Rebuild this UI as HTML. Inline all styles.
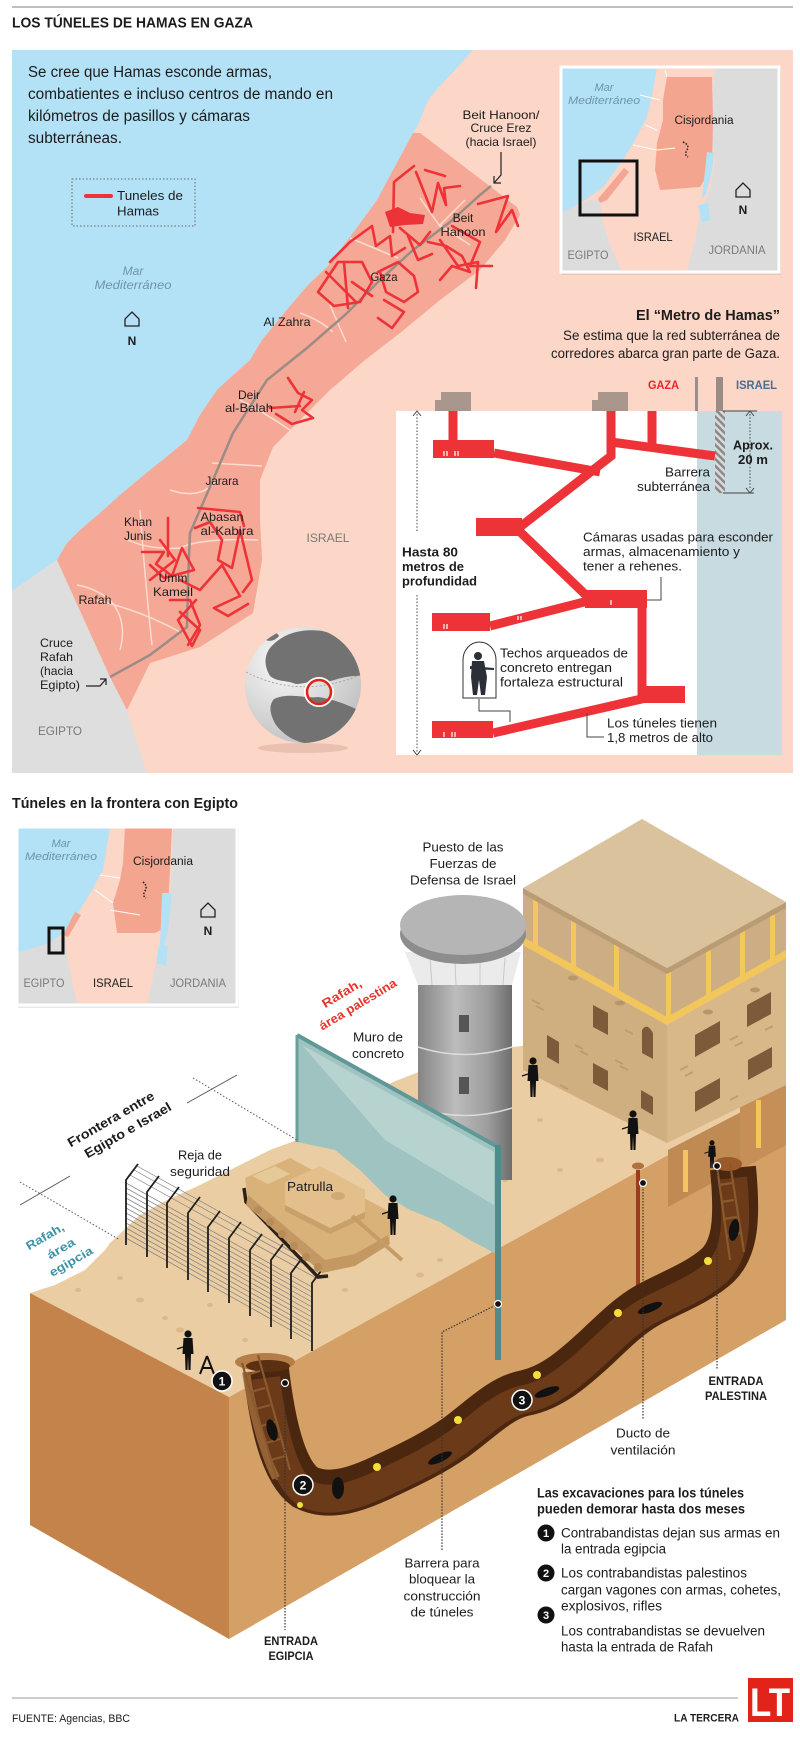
<!DOCTYPE html>
<html><head><meta charset="utf-8">
<style>
html,body{margin:0;padding:0;background:#fff;}
svg{display:block;}
.t{font-family:"Liberation Sans",sans-serif;fill:#1c1c1c;}
.b{font-weight:bold;}
.i{font-style:italic;}
</style></head>
<body>
<svg width="800" height="1744" viewBox="0 0 800 1744" xmlns="http://www.w3.org/2000/svg">
<defs>
 <pattern id="hatch" width="5" height="5" patternUnits="userSpaceOnUse" patternTransform="rotate(-45)">
  <rect width="5" height="5" fill="#d9d9d9"/><rect width="2.5" height="5" fill="#8a8a8a"/>
 </pattern>
 <radialGradient id="globe" cx="0.35" cy="0.3" r="0.8"><stop offset="0" stop-color="#fbfbfb"/><stop offset="1" stop-color="#bdbdbd"/></radialGradient>
 <clipPath id="gclip"><circle cx="303" cy="685" r="58"/></clipPath>
 <clipPath id="in1"><rect x="561" y="67" width="218" height="205"/></clipPath>
 <clipPath id="in2"><rect x="17" y="827" width="220" height="178"/></clipPath>
 <linearGradient id="tower" x1="0" x2="1"><stop offset="0" stop-color="#858585"/><stop offset="0.4" stop-color="#bcbcbc"/><stop offset="0.75" stop-color="#9c9c9c"/><stop offset="1" stop-color="#6d6d6d"/></linearGradient>
 <g id="p"><circle cx="0" cy="4" r="3.6"/><path d="M-4.5,8 H4.5 L5.5,24 H3 L2.5,40 H0.5 L0,26 L-0.5,40 H-2.5 L-3,24 H-5.5 Z"/><path d="M-5,17 L-11,19" stroke="#111" stroke-width="1.3"/></g>
</defs>

<!-- header -->
<line x1="12" y1="7" x2="793" y2="7" stroke="#999" stroke-width="1.2"/>
<text class="t b" x="12" y="27.5" font-size="15" textLength="241" lengthAdjust="spacingAndGlyphs">LOS TÚNELES DE HAMAS EN GAZA</text>

<!-- ============ MAP PANEL ============ -->
<rect x="12" y="50" width="781" height="723" fill="#fcd6c6"/>
<path d="M12,50 H473 L455,70 L438,88 L428,100 L418,125 L413,133 L377,200 L353,233 L327,267 L308,285 L285,312 L262,340 L250,360 L230,378 L217,390 L200,415 L187,440 L165,458 L150,470 L120,495 L100,513 L80,530 L67,543 L57,560 L13,590 L12,590 Z" fill="#b3e1f6"/>
<path d="M57,560 L13,590 L12,590 L12,773 L147,773 L127,710 L110,677 Z" fill="#dedede"/>
<path d="M413,133 L420,133 L517,207 L520,215 L505,240 L480,270 L440,300 L400,333 L365,360 L330,390 L307,413 L273,447 L260,480 L260,520 L262,560 L253,613 L200,647 L150,663 L127,710 L110,677 L57,560 L67,543 L80,530 L100,513 L120,495 L150,470 L165,458 L187,440 L200,415 L217,390 L230,378 L250,360 L262,340 L285,312 L308,285 L327,267 L353,233 L377,200 Z" fill="#f5a896"/>
<!-- district lines -->
<g stroke="#fcdccf" stroke-width="1.5" fill="none">
 <path d="M300,313 Q320,320 333,332"/>
 <path d="M212,463 L262,466"/>
 <path d="M170,490 Q200,500 215,482"/>
 <path d="M128,540 Q150,550 180,548 Q200,538 258,540"/>
 <path d="M95,600 Q140,610 180,632"/>
 <path d="M120,650 Q128,620 110,600 Q95,588 77,585"/>
 <path d="M140,510 Q145,580 152,645"/>
 <path d="M350,238 L398,258"/>
 <path d="M330,305 L346,342"/>
 <path d="M420,198 L444,232"/>
 <path d="M465,200 L440,225 L470,245"/>
 <path d="M240,400 Q260,410 290,430"/>
</g>
<!-- road -->
<path d="M110,677 L150,655 L187,627 L188,580 L190,533 L213,480 L233,433 L267,380 L307,348 L345,315 L380,280 L413,250 L450,222 L480,195 L491,186" stroke="#9b8c86" stroke-width="2.5" fill="none"/>
<!-- red tunnels -->
<g stroke="#ee3338" stroke-width="2.6" fill="none" stroke-linejoin="round" stroke-linecap="round">
 <polyline points="393,232 394,182 414,166"/>
 <polyline points="416,172 432,212 438,183 446,205 444,188 460,186"/>
 <polyline points="425,170 445,176"/>
 <polyline points="330,262 350,242 372,226 376,246 390,236 392,256 405,248"/>
 <polyline points="318,292 338,262 362,262 372,282 360,302 334,306 318,292"/>
 <polyline points="326,272 356,302"/>
 <polyline points="344,262 348,308"/>
 <polyline points="378,272 398,262 414,276 418,292 404,302 386,292 380,272"/>
 <polyline points="384,300 404,312 392,328 378,318"/>
 <polyline points="428,242 446,246 462,256 470,272 452,266 440,280"/>
 <polyline points="452,226 480,242 470,266 492,266"/>
 <polyline points="478,204 508,196 496,232 512,210 518,226"/>
 <polyline points="440,240 458,266 478,262 476,288"/>
 <polyline points="408,236 418,260 432,254"/>
 <polyline points="352,282 372,296"/>
 <polyline points="400,228 420,245 430,232"/>
 <polyline points="288,378 298,393 312,400 302,410 313,418 292,424 276,414"/>
 <polyline points="270,408 300,406"/>
 <polyline points="304,392 295,412"/>
 <polyline points="168,518 168,556"/>
 <polyline points="142,552 164,552 156,564 172,576 182,548 194,570 164,578 150,565"/>
 <polyline points="198,508 240,512 244,526"/>
 <polyline points="195,528 210,522 222,540 218,560 232,568 240,530 252,580 243,592"/>
 <polyline points="180,580 200,590 222,565 240,596 214,608 228,616 248,604"/>
 <polyline points="180,612 200,630 192,646 178,620 196,600"/>
 <polyline points="170,600 190,600 200,625 188,645"/>
 <polyline points="160,540 175,560 150,580"/>
</g>
<polygon points="385,212 398,207 410,213 425,215 423,224 405,225 390,227" fill="#ee3338"/>

<!-- intro text -->
<text class="t" font-size="15.5" x="28" y="77" textLength="244" lengthAdjust="spacingAndGlyphs">Se cree que Hamas esconde armas,</text>
<text class="t" font-size="15.5" x="28" y="99" textLength="305" lengthAdjust="spacingAndGlyphs">combatientes e incluso centros de mando en</text>
<text class="t" font-size="15.5" x="28" y="121" textLength="222" lengthAdjust="spacingAndGlyphs">kilómetros de pasillos y cámaras</text>
<text class="t" font-size="15.5" x="28" y="143" textLength="94" lengthAdjust="spacingAndGlyphs">subterráneas.</text>

<!-- legend -->
<rect x="72" y="179" width="123" height="47" fill="none" stroke="#666" stroke-width="1" stroke-dasharray="1.5 2"/>
<line x1="86" y1="196" x2="111" y2="196" stroke="#ee3338" stroke-width="4" stroke-linecap="round"/>
<text class="t" font-size="13" x="117" y="200" textLength="66" lengthAdjust="spacingAndGlyphs">Tuneles de</text>
<text class="t" font-size="13" x="117" y="215.5" textLength="42" lengthAdjust="spacingAndGlyphs">Hamas</text>

<!-- map labels -->
<text class="t i" font-size="12" x="133" y="275" text-anchor="middle" style="fill:#6f95a6">Mar</text>
<text class="t i" font-size="12" x="133" y="289" text-anchor="middle" style="fill:#6f95a6" textLength="77" lengthAdjust="spacingAndGlyphs">Mediterráneo</text>
<path d="M125,326 V319 L132,312 L139,319 V326 Z" fill="none" stroke="#222" stroke-width="1.3"/>
<text class="t b" font-size="12" x="132" y="345" text-anchor="middle">N</text>

<text class="t" font-size="12" x="501" y="119" text-anchor="middle" textLength="77" lengthAdjust="spacingAndGlyphs">Beit Hanoon/</text>
<text class="t" font-size="12" x="501" y="132" text-anchor="middle" textLength="61" lengthAdjust="spacingAndGlyphs">Cruce Erez</text>
<text class="t" font-size="12" x="501" y="146" text-anchor="middle" textLength="71" lengthAdjust="spacingAndGlyphs">(hacia Israel)</text>
<text class="t" font-size="12" x="463" y="222" text-anchor="middle">Beit</text>
<text class="t" font-size="12" x="463" y="236" text-anchor="middle" textLength="45" lengthAdjust="spacingAndGlyphs">Hanoon</text>
<text class="t" font-size="12" x="384" y="281" text-anchor="middle" textLength="27" lengthAdjust="spacingAndGlyphs">Gaza</text>
<text class="t" font-size="12" x="287" y="326" text-anchor="middle" textLength="47" lengthAdjust="spacingAndGlyphs">Al Zahra</text>
<text class="t" font-size="12" x="249" y="399" text-anchor="middle">Deir</text>
<text class="t" font-size="12" x="249" y="412" text-anchor="middle" textLength="48" lengthAdjust="spacingAndGlyphs">al-Balah</text>
<text class="t" font-size="12" x="222" y="485" text-anchor="middle" textLength="33" lengthAdjust="spacingAndGlyphs">Jarara</text>
<text class="t" font-size="12" x="138" y="526" text-anchor="middle">Khan</text>
<text class="t" font-size="12" x="138" y="540" text-anchor="middle">Junis</text>
<text class="t" font-size="12" x="222" y="521" text-anchor="middle" textLength="43" lengthAdjust="spacingAndGlyphs">Abasan</text>
<text class="t" font-size="12" x="227" y="535" text-anchor="middle" textLength="53" lengthAdjust="spacingAndGlyphs">al-Kabira</text>
<text class="t" font-size="12" x="173" y="582" text-anchor="middle">Umm</text>
<text class="t" font-size="12" x="173" y="596" text-anchor="middle" textLength="40" lengthAdjust="spacingAndGlyphs">Kameil</text>
<text class="t" font-size="12" x="95" y="604" text-anchor="middle" textLength="33" lengthAdjust="spacingAndGlyphs">Rafah</text>
<text class="t" font-size="12" x="40" y="647" textLength="33" lengthAdjust="spacingAndGlyphs">Cruce</text>
<text class="t" font-size="12" x="40" y="661" textLength="33" lengthAdjust="spacingAndGlyphs">Rafah</text>
<text class="t" font-size="12" x="40" y="675" textLength="33" lengthAdjust="spacingAndGlyphs">(hacia</text>
<text class="t" font-size="12" x="40" y="689" textLength="40" lengthAdjust="spacingAndGlyphs">Egipto)</text>
<text class="t" font-size="12" x="60" y="735" text-anchor="middle" style="fill:#7a7a7a" textLength="44" lengthAdjust="spacingAndGlyphs">EGIPTO</text>
<text class="t" font-size="12" x="328" y="542" text-anchor="middle" style="fill:#7a7a7a" textLength="43" lengthAdjust="spacingAndGlyphs">ISRAEL</text>
<!-- arrows -->
<path d="M501,152 V175 L494,183" fill="none" stroke="#222" stroke-width="1.2"/>
<path d="M494,176 V183 H501" fill="none" stroke="#222" stroke-width="1.2"/>
<path d="M86,686 H100 L106,679" fill="none" stroke="#222" stroke-width="1.2"/>
<path d="M100,679 H106 V685" fill="none" stroke="#222" stroke-width="1.2"/>

<!-- globe -->
<ellipse cx="303" cy="748" rx="45" ry="5" fill="#e3b8a8" opacity="0.7"/>
<circle cx="303" cy="685" r="58" fill="url(#globe)"/>
<g clip-path="url(#gclip)" fill="#727272">
 <path d="M270,648 C282,634 300,628 322,631 C342,635 356,646 362,660 L362,676 C348,675 338,679 327,682 C317,678 306,684 296,684 C286,680 277,682 270,676 C264,666 264,656 270,648 Z"/>
 <path d="M274,699 C290,692 305,699 318,697 C332,699 346,704 358,710 C354,727 341,739 322,744 C302,746 286,738 276,725 C269,713 269,705 274,699 Z"/>
 <path d="M262,636 C268,630 276,630 279,636 C274,642 266,643 262,636 Z"/>
</g>
<path d="M246,672 Q300,700 360,675" fill="none" stroke="#9a9a9a" stroke-width="0.8" stroke-dasharray="2 2"/>
<circle cx="319" cy="692" r="14" fill="none" stroke="#fff" stroke-width="2"/>
<circle cx="319" cy="692" r="12" fill="none" stroke="#e2231a" stroke-width="2.5"/>

<!-- inset 1 -->
<rect x="562" y="69" width="219" height="206" fill="#d9b7a8" opacity="0.5"/>
<g clip-path="url(#in1)">
 <rect x="561" y="67" width="218" height="205" fill="#fcd6c6"/>
 <path d="M561,67 H657 L652,95 L647,117 L635,140 L623,160 L603,187 L585,200 L573,207 L561,213 Z" fill="#b3e1f6"/>
 <path d="M561,213 L573,207 L590,200 L600,201 L603,222 L610,245 L622,272 H561 Z" fill="#dcdcdc"/>
 <path d="M624,168 L629,172 L607,200 L600,203 L598,199 Z" fill="#f4a594"/>
 <path d="M715,67 H779 V272 H687 L695,240 L700,213 L710,190 L715,157 L710,133 L712,100 Z" fill="#dcdcdc"/>
 <path d="M667,77 L712,77 L713,120 L712,167 L700,187 L660,190 L655,170 L657,143 L663,120 L663,100 Z" fill="#f4a58f"/>
 <path d="M707,152 L714,153 L712,170 L706,195 L702,198 Z M698,205 L708,203 L710,220 L702,222 Z" fill="#b3e1f6"/>
 <g stroke="#fff" stroke-width="1" fill="none">
  <path d="M640,95 L660,100 M645,125 L657,130 M633,145 L657,150 L675,148"/>
  <path d="M665,70 L667,77"/>
 </g>
 <path d="M683,142 Q690,145 687,150 Q684,155 688,157" fill="none" stroke="#222" stroke-width="1.5" stroke-dasharray="1.5 1.5"/>
</g>
<rect x="561" y="67" width="218" height="205" fill="none" stroke="#fff" stroke-width="3"/>
<rect x="580" y="161" width="57" height="54" fill="none" stroke="#111" stroke-width="3"/>
<text class="t i" font-size="11" x="604" y="91" text-anchor="middle" style="fill:#6f95a6">Mar</text>
<text class="t i" font-size="11" x="604" y="104" text-anchor="middle" style="fill:#6f95a6" textLength="72" lengthAdjust="spacingAndGlyphs">Mediterráneo</text>
<text class="t" font-size="11.5" x="704" y="124" text-anchor="middle" textLength="59" lengthAdjust="spacingAndGlyphs">Cisjordania</text>
<text class="t" font-size="11.5" x="653" y="241" text-anchor="middle" textLength="39" lengthAdjust="spacingAndGlyphs">ISRAEL</text>
<text class="t" font-size="11.5" x="588" y="259" text-anchor="middle" style="fill:#7a7a7a" textLength="41" lengthAdjust="spacingAndGlyphs">EGIPTO</text>
<text class="t" font-size="11.5" x="737" y="254" text-anchor="middle" style="fill:#7a7a7a" textLength="57" lengthAdjust="spacingAndGlyphs">JORDANIA</text>
<path d="M736,197 V190 L743,183 L750,190 V197 Z" fill="none" stroke="#222" stroke-width="1.3"/>
<text class="t b" font-size="12" x="743" y="214" text-anchor="middle">N</text>

<!-- metro section -->
<text class="t b" font-size="15" x="780" y="320" text-anchor="end" textLength="144" lengthAdjust="spacingAndGlyphs">El “Metro de Hamas”</text>
<text class="t" font-size="13.5" x="780" y="340" text-anchor="end" textLength="217" lengthAdjust="spacingAndGlyphs">Se estima que la red subterránea de</text>
<text class="t" font-size="13.5" x="780" y="358" text-anchor="end" textLength="229" lengthAdjust="spacingAndGlyphs">corredores abarca gran parte de Gaza.</text>
<text class="t b" font-size="12" x="648" y="389" style="fill:#e8262d" textLength="31" lengthAdjust="spacingAndGlyphs">GAZA</text>
<text class="t b" font-size="12" x="736" y="389" style="fill:#4b6e8c" textLength="41" lengthAdjust="spacingAndGlyphs">ISRAEL</text>
<rect x="695" y="377" width="3" height="34" fill="#9b8f8a"/>
<rect x="716" y="377" width="7" height="34" fill="#9b8b84"/>
<path d="M435,411 V400 H441 V392 H471 V411 Z" fill="#a9968d"/>
<path d="M592,411 V400 H598 V392 H628 V411 Z" fill="#a9968d"/>
<rect x="396" y="411" width="301" height="344" fill="#ffffff"/>
<rect x="697" y="411" width="85" height="344" fill="#c8dbe1"/>
<rect x="715" y="411" width="10" height="82" fill="url(#hatch)"/>
<!-- red tunnels metro -->
<g stroke="#ee3338" stroke-width="9" fill="none" stroke-linejoin="miter">
 <path d="M453,411 V444"/>
 <path d="M494,453 L600,472"/>
 <path d="M611,411 V456 L520,527"/>
 <path d="M611,442 L715,456"/>
 <path d="M652,411 V445"/>
 <path d="M515,527 L590,599"/>
 <path d="M490,626 L592,600"/>
 <path d="M642,600 V700"/>
 <path d="M493,733 L646,698"/>
</g>
<g fill="#ee3338">
 <rect x="433" y="440" width="61" height="18"/>
 <rect x="476" y="518" width="46" height="18"/>
 <rect x="585" y="590" width="62" height="18"/>
 <rect x="432" y="613" width="58" height="18"/>
 <rect x="642" y="686" width="43" height="17"/>
 <rect x="432" y="721" width="61" height="17"/>
</g>
<g stroke="#fff" stroke-width="1.2">
 <path d="M444,451 v5 M447,451 v5 M455,451 v5 M458,451 v5 M497,536 v4 M500,536 v4 M503,536 v4 M444,624 v5 M447,624 v5 M444,732 v5 M452,732 v5 M455,732 v5 M611,600 v5 M518,616 v4 M521,616 v4"/>
</g>
<!-- dimension lines -->
<g stroke="#444" stroke-width="1" fill="none">
 <path d="M417,414 V532 M417,595 V752" stroke-dasharray="1.5 1.8"/>
 <path d="M413,416 L417,411 L421,416 M413,750 L417,755 L421,750"/>
 <path d="M750,414 V490" stroke-dasharray="1.5 1.8"/>
 <path d="M746,416 L750,411 L754,416 M746,488 L750,493 L754,488"/>
 <path d="M723,411 H757 M723,493 H754"/>
 <path d="M661,577 V600 H647"/>
 <path d="M479,699 V711 H510 V722"/>
 <path d="M587,713 V737 H604"/>
</g>
<text class="t b" font-size="13" x="753" y="449.5" text-anchor="middle" textLength="40" lengthAdjust="spacingAndGlyphs">Aprox.</text>
<text class="t b" font-size="13" x="753" y="464" text-anchor="middle" textLength="30" lengthAdjust="spacingAndGlyphs">20 m</text>
<text class="t" font-size="13" x="710" y="476.5" text-anchor="end" textLength="45" lengthAdjust="spacingAndGlyphs">Barrera</text>
<text class="t" font-size="13" x="710" y="491" text-anchor="end" textLength="73" lengthAdjust="spacingAndGlyphs">subterránea</text>
<text class="t b" font-size="13" x="402" y="556.5" textLength="56" lengthAdjust="spacingAndGlyphs">Hasta 80</text>
<text class="t b" font-size="13" x="402" y="571" textLength="62" lengthAdjust="spacingAndGlyphs">metros de</text>
<text class="t b" font-size="13" x="402" y="585.5" textLength="75" lengthAdjust="spacingAndGlyphs">profundidad</text>
<text class="t" font-size="13" x="583" y="541.5" textLength="190" lengthAdjust="spacingAndGlyphs">Cámaras usadas para esconder</text>
<text class="t" font-size="13" x="583" y="556" textLength="157" lengthAdjust="spacingAndGlyphs">armas, almacenamiento y</text>
<text class="t" font-size="13" x="583" y="570.5" textLength="99" lengthAdjust="spacingAndGlyphs">tener a rehenes.</text>
<text class="t" font-size="13" x="500" y="657.5" textLength="128" lengthAdjust="spacingAndGlyphs">Techos arqueados de</text>
<text class="t" font-size="13" x="500" y="672" textLength="112" lengthAdjust="spacingAndGlyphs">concreto entregan</text>
<text class="t" font-size="13" x="500" y="686.5" textLength="123" lengthAdjust="spacingAndGlyphs">fortaleza estructural</text>
<text class="t" font-size="13" x="607" y="727.5" textLength="110" lengthAdjust="spacingAndGlyphs">Los túneles tienen</text>
<text class="t" font-size="13" x="607" y="742" textLength="106" lengthAdjust="spacingAndGlyphs">1,8 metros de alto</text>
<!-- arch with soldier -->
<path d="M463,698 V660 A16.5,18 0 0 1 496,660 V698 Z" fill="#fff" stroke="#333" stroke-width="1"/>
<g fill="#2b3038">
 <circle cx="478" cy="656" r="4"/>
 <path d="M472,661 H484 L487,677 L485,695 H481 L479,680 L477,695 H473 L471,677 Z"/>
 <path d="M470,666 L494,668 L494,670 L470,669 Z"/>
</g>

<!-- ============ LOWER SECTION ============ -->
<text class="t b" font-size="14.5" x="12" y="808" textLength="226" lengthAdjust="spacingAndGlyphs">Túneles en la frontera con Egipto</text>

<!-- inset 2 -->
<rect x="18" y="829" width="221" height="179" fill="#d9d9d9" opacity="0.6"/>
<g clip-path="url(#in2)">
 <rect x="17" y="827" width="220" height="178" fill="#fcd6c6"/>
 <path d="M17,827 H110 L103,870 L92,890 L80,910 L67,930 L50,943 L17,953 Z" fill="#b3e1f6"/>
 <path d="M17,953 L50,943 L65,935 L68,960 L77,1005 H17 Z" fill="#dcdcdc"/>
 <path d="M173,827 H237 V1005 H147 L157,957 L165,930 L170,897 L172,860 Z" fill="#dcdcdc"/>
 <path d="M125,827 L172,827 L170,870 L167,927 L155,933 L117,933 L113,903 L120,880 L123,863 Z" fill="#f4a58f"/>
 <path d="M75,912 L81,915 L68,937 L63,935 Z" fill="#f4a594"/>
 <path d="M162,893 L172,893 L168,930 L163,950 L160,948 Z M158,947 L168,946 L166,966 L157,963 Z" fill="#b3e1f6"/>
 <path d="M100,875 L120,878 M95,890 L113,903 M110,910 L140,915" stroke="#fff" stroke-width="1" fill="none"/>
 <path d="M143,882 Q148,886 145,891 Q142,896 146,898" fill="none" stroke="#222" stroke-width="1.5" stroke-dasharray="1.5 1.5"/>
</g>
<rect x="17" y="827" width="220" height="178" fill="none" stroke="#fff" stroke-width="3"/>
<rect x="49" y="928" width="14" height="25" fill="none" stroke="#111" stroke-width="3"/>
<text class="t i" font-size="11" x="61" y="847" text-anchor="middle" style="fill:#6f95a6">Mar</text>
<text class="t i" font-size="11" x="61" y="860" text-anchor="middle" style="fill:#6f95a6" textLength="72" lengthAdjust="spacingAndGlyphs">Mediterráneo</text>
<text class="t" font-size="11.5" x="163" y="865" text-anchor="middle" textLength="60" lengthAdjust="spacingAndGlyphs">Cisjordania</text>
<text class="t" font-size="11.5" x="44" y="987" text-anchor="middle" style="fill:#7a7a7a" textLength="41" lengthAdjust="spacingAndGlyphs">EGIPTO</text>
<text class="t" font-size="11.5" x="113" y="987" text-anchor="middle" textLength="40" lengthAdjust="spacingAndGlyphs">ISRAEL</text>
<text class="t" font-size="11.5" x="198" y="987" text-anchor="middle" style="fill:#7a7a7a" textLength="56" lengthAdjust="spacingAndGlyphs">JORDANIA</text>
<path d="M201,917 V910 L208,903 L215,910 V917 Z" fill="none" stroke="#222" stroke-width="1.3"/>
<text class="t b" font-size="12" x="208" y="935" text-anchor="middle">N</text>

<!-- 3D block -->
<path d="M30,1293 L55,1285 L85,1270 L105,1250 L110,1243 L140,1215 L167,1200 L200,1185 L240,1165 L270,1150 L297,1140 L330,1120 L393,1082 L470,1052 L530,1045 L786,958 L786,1090 L229,1397 Z" fill="#ebcda3"/>
<path d="M30,1293 L229,1397 L229,1639 L30,1525 Z" fill="#c4834b"/>
<path d="M229,1397 L786,1090 L786,1320 L229,1639 Z" fill="#d5a066"/>
<!-- sand dots -->
<g fill="#dcb88a">
 <ellipse cx="78" cy="1290" rx="3" ry="2"/><ellipse cx="140" cy="1300" rx="4" ry="2.5"/><ellipse cx="165" cy="1318" rx="3" ry="2"/>
 <ellipse cx="120" cy="1278" rx="3" ry="2"/><ellipse cx="180" cy="1330" rx="4" ry="2.5"/><ellipse cx="245" cy="1340" rx="3" ry="2"/>
 <ellipse cx="345" cy="1290" rx="3" ry="2"/><ellipse cx="420" cy="1275" rx="4" ry="2.5"/><ellipse cx="440" cy="1260" rx="3" ry="2"/>
 <ellipse cx="560" cy="1170" rx="3" ry="2"/><ellipse cx="600" cy="1160" rx="4" ry="2.5"/><ellipse cx="505" cy="1180" rx="3" ry="2"/>
 <ellipse cx="210" cy="1305" rx="3" ry="2"/><ellipse cx="430" cy="1100" rx="3" ry="2"/><ellipse cx="540" cy="1120" rx="3" ry="2"/>
</g>
<!-- cutaway near Palestinian side -->
<path d="M668,1150 L745,1110 L745,1165 L668,1207 Z" fill="#c08a53"/>
<path d="M740,1100 L786,1085 L786,1145 L740,1170 Z" fill="#c68f57"/>
<rect x="683" y="1150" width="5" height="42" fill="#f2c65a"/>
<rect x="756" y="1100" width="5" height="48" fill="#f2c65a"/>
<!-- ventilation duct -->
<rect x="636" y="1170" width="4" height="120" fill="#9a3d1c"/>
<ellipse cx="638" cy="1166" rx="6" ry="3.5" fill="#b07040"/>

<!-- tunnel -->
<path d="M266,1370 C272,1420 282,1470 305,1487 C330,1500 360,1488 385,1476 C415,1462 435,1452 455,1438 C480,1420 500,1398 525,1393 C550,1388 570,1372 597,1347 C615,1330 630,1315 648,1305 C670,1293 700,1282 718,1265 C735,1248 738,1220 733,1168" fill="none" stroke="#4c2710" stroke-width="46"/>
<path d="M266,1372 C272,1420 282,1470 305,1487 C330,1500 360,1488 385,1476 C415,1462 435,1452 455,1438 C480,1420 500,1398 525,1393 C550,1388 570,1372 597,1347 C615,1330 630,1315 648,1305 C670,1293 700,1282 718,1265 C735,1248 738,1220 733,1172" fill="none" stroke="#6b3a18" stroke-width="28" transform="translate(0,6)"/>
<path d="M246,1372 C252,1410 262,1450 276,1478" fill="none" stroke="#a5703e" stroke-width="8" opacity="0.8"/>
<ellipse cx="265" cy="1362" rx="30" ry="9" fill="#b57d47"/>
<ellipse cx="268" cy="1366" rx="22" ry="6" fill="#5a2f12"/>
<ellipse cx="728" cy="1164" rx="14" ry="7" fill="#9a5a2a"/>
<!-- ladders -->
<g stroke="#8a5a2e" stroke-width="2.2" fill="none">
 <path d="M242,1363 L277,1480 M258,1355 L290,1470"/>
 <path d="M246,1375 L260,1371 M251,1392 L265,1388 M256,1409 L270,1405 M261,1426 L275,1422 M266,1443 L280,1439 M271,1460 L285,1456"/>
 <path d="M717,1167 L730,1260 M730,1163 L744,1252"/>
 <path d="M719,1185 L732,1183 M721,1202 L734,1200 M723,1219 L737,1217 M726,1236 L740,1233"/>
</g>
<!-- lamps -->
<g fill="#f5de3a">
 <circle cx="377" cy="1467" r="4"/><circle cx="458" cy="1420" r="4"/><circle cx="537" cy="1375" r="4"/><circle cx="618" cy="1313" r="4"/><circle cx="708" cy="1261" r="4"/><circle cx="300" cy="1505" r="3"/>
</g>
<!-- crawling people -->
<g fill="#111">
 <ellipse cx="440" cy="1458" rx="13" ry="4" transform="rotate(-25 440 1458)"/>
 <ellipse cx="547" cy="1392" rx="13" ry="4" transform="rotate(-20 547 1392)"/>
 <ellipse cx="650" cy="1308" rx="13" ry="4" transform="rotate(-22 650 1308)"/>
 <ellipse cx="338" cy="1488" rx="6" ry="11"/>
 <ellipse cx="272" cy="1430" rx="5" ry="11" transform="rotate(-15 272 1430)"/>
 <ellipse cx="734" cy="1230" rx="5" ry="11" transform="rotate(10 734 1230)"/>
</g>

<!-- fence -->
<g stroke="#7d7d7d" stroke-width="0.7">
 <line x1="126" y1="1183" x2="312" y2="1287"/><line x1="126" y1="1188" x2="312" y2="1292"/><line x1="126" y1="1193" x2="312" y2="1297"/>
 <line x1="126" y1="1198" x2="312" y2="1302"/><line x1="126" y1="1203" x2="312" y2="1307"/><line x1="126" y1="1208" x2="312" y2="1312"/>
 <line x1="126" y1="1213" x2="312" y2="1317"/><line x1="126" y1="1218" x2="312" y2="1322"/><line x1="126" y1="1223" x2="312" y2="1327"/>
 <line x1="126" y1="1228" x2="312" y2="1332"/><line x1="126" y1="1233" x2="312" y2="1337"/><line x1="126" y1="1238" x2="312" y2="1342"/>
 <line x1="130" y1="1175" x2="316" y2="1278"/><line x1="134" y1="1170" x2="320" y2="1273"/><line x1="137" y1="1166" x2="323" y2="1269"/>
</g>
<g stroke="#1e1e1e" stroke-width="1.8" fill="none">
 <path d="M126,1245 V1180 L138,1164"/><path d="M147,1257 V1192 L159,1176"/><path d="M167,1268 V1203 L179,1187"/>
 <path d="M188,1280 V1213 L200,1197"/><path d="M208,1292 V1227 L220,1211"/><path d="M229,1303 V1238 L241,1222"/>
 <path d="M250,1316 V1250 L262,1234"/><path d="M271,1327 V1260 L283,1244"/><path d="M291,1339 V1273 L303,1257"/>
 <path d="M312,1351 V1283 L324,1267"/>
</g>

<!-- tank -->
<path d="M244,1188 L246,1202 L318,1277 L328,1276" fill="none" stroke="#2d2218" stroke-width="3.5"/>
<path d="M245,1178 L290,1158 L390,1212 L390,1240 L355,1262 L325,1268 L248,1200 Z" fill="#d9b27a"/>
<path d="M248,1195 L325,1260 L355,1254 L388,1235 L390,1244 L355,1266 L322,1273 L246,1205 Z" fill="#c49862"/>
<g fill="#b88c58">
 <circle cx="258" cy="1210" r="4"/><circle cx="270" cy="1222" r="4"/><circle cx="282" cy="1234" r="4"/><circle cx="294" cy="1246" r="4"/><circle cx="306" cy="1257" r="4"/><circle cx="318" cy="1267" r="4"/>
</g>
<path d="M285,1182 L320,1166 L365,1190 L365,1212 L330,1228 L285,1205 Z" fill="#e3c08b"/>
<path d="M285,1205 L330,1228 L365,1212 L365,1218 L330,1234 L285,1211 Z" fill="#c9a06a"/>
<line x1="352" y1="1216" x2="402" y2="1260" stroke="#c59c66" stroke-width="4"/>
<ellipse cx="338" cy="1196" rx="7" ry="4" fill="#d0aa74"/>
<path d="M252,1176 L275,1166 L290,1174 L268,1184 Z" fill="#e6c999"/>
<text class="t" font-size="13" x="310" y="1191" text-anchor="middle" textLength="46" lengthAdjust="spacingAndGlyphs">Patrulla</text>

<!-- building -->
<path d="M523,893 L667,973 L786,907 L786,952 L667,1018 L523,939 Z" fill="#cdae84"/>
<g fill="#f3c75b">
 <rect x="533" y="893" width="5" height="52"/><rect x="571" y="914" width="5" height="52"/><rect x="614" y="938" width="5" height="52"/>
 <rect x="666" y="967" width="5" height="52"/><rect x="706" y="943" width="5" height="52"/><rect x="740" y="924" width="5" height="52"/><rect x="770" y="908" width="5" height="52"/>
</g>
<path d="M523,937 L667,1017 L786,950 L786,958 L667,1025 L523,945 Z" fill="#f2c65a"/>
<path d="M523,945 L667,1025 L667,1143 L523,1070 Z" fill="#cfae80"/>
<path d="M667,1025 L786,958 L786,1085 L667,1143 Z" fill="#d8b788"/>
<path d="M523,888 L667,968 L786,902 L786,908 L667,974 L523,894 Z" fill="#b99c74"/>
<path d="M523,888 L642,819 L786,902 L667,968 Z" fill="#d9c29c"/>
<g fill="#7d5a3a">
 <path d="M593,1005 L608,1013 L608,1035 L593,1027 Z"/>
 <path d="M547,1035 L559,1042 L559,1064 L547,1057 Z"/>
 <path d="M593,1063 L608,1071 L608,1091 L593,1083 Z"/>
 <path d="M641,1090 L653,1097 L653,1115 L641,1108 Z"/>
 <path d="M642,1030 Q647,1022 653,1033 L653,1059 L642,1053 Z"/>
 <path d="M695,1035 L720,1021 L720,1043 L695,1057 Z"/>
 <path d="M747,1005 L771,992 L771,1014 L747,1027 Z"/>
 <path d="M695,1092 L720,1078 L720,1098 L695,1112 Z"/>
 <path d="M748,1060 L772,1047 L772,1067 L748,1080 Z"/>
</g>
<g fill="#b8966c">
 <ellipse cx="573" cy="978" rx="5" ry="2.5"/><ellipse cx="620" cy="1003" rx="5" ry="2.5"/><ellipse cx="708" cy="1012" rx="5" ry="2.5"/><ellipse cx="755" cy="990" rx="5" ry="2.5"/>
</g>
<g stroke="#b79468" stroke-width="2" opacity="0.7">
 <path d="M532,1000 l8,4 M536,1006 l8,4 M575,1045 l8,4 M580,1051 l8,4 M615,1060 l8,4 M620,1066 l8,4 M560,1085 l8,4 M625,1030 l8,4"/>
 <path d="M730,1040 l8,-4 M735,1046 l8,-4 M680,1070 l8,-4 M685,1076 l8,-4 M765,1030 l8,-4 M730,1100 l8,-4 M772,1095 l8,-4"/>
</g>

<!-- tower -->
<rect x="418" y="965" width="94" height="215" fill="url(#tower)"/>
<path d="M405,952 L521,952 L512,985 L418,985 Z" fill="#ebebeb"/>
<path d="M430,958 L432,985 M455,960 L456,985 M480,960 L480,985 M505,958 L503,985" stroke="#c8c8c8" stroke-width="1"/>
<ellipse cx="463" cy="934" rx="63" ry="30" fill="#8d8d8d"/>
<ellipse cx="463" cy="925" rx="63" ry="30" fill="#b5b5b5"/>
<path d="M418,1047 Q465,1062 512,1047 M418,1108 Q465,1123 512,1108" fill="none" stroke="#dadada" stroke-width="1.5"/>
<rect x="459" y="1015" width="10" height="17" fill="#555"/>
<rect x="459" y="1077" width="10" height="17" fill="#555"/>

<!-- wall -->
<path d="M297,1035 L498,1147 L498,1255 L470,1240 L440,1222 L410,1210 L385,1195 L360,1170 L335,1150 L297,1142 Z" fill="#9fc3c0"/>
<path d="M302,1045 L494,1152 L494,1205 L385,1140 Z" fill="#b6d3d0"/>
<path d="M297,1035 L498,1147" stroke="#5f9896" stroke-width="4"/>
<path d="M297,1035 V1142" stroke="#6a9f9c" stroke-width="3"/>
<rect x="495" y="1145" width="6" height="215" fill="#4f8b8a"/>

<!-- soldiers -->
<g fill="#111">
 <use href="#p" transform="translate(533,1057)"/>
 <use href="#p" transform="translate(633,1110)"/>
 <use href="#p" transform="translate(393,1195)"/>
 <use href="#p" transform="translate(188,1330)"/>
 <use href="#p" transform="translate(712,1140) scale(0.7)"/>
 <path d="M207,1356 L200,1374 M207,1356 L214,1374 M203,1368 H211" stroke="#111" stroke-width="2" fill="none"/>
</g>

<!-- border lines & rotated labels -->
<g stroke="#555" stroke-width="1" fill="none">
 <path d="M193,1078 L297,1140" stroke-dasharray="1.5 2"/>
 <path d="M187,1103 L237,1075"/>
 <path d="M20,1182 L120,1240" stroke-dasharray="1.5 2"/>
 <path d="M20,1205 L70,1176"/>
</g>
<text class="t b" font-size="13" text-anchor="middle" transform="translate(113,1123) rotate(-30)" textLength="98" lengthAdjust="spacingAndGlyphs">Frontera entre</text>
<text class="t b" font-size="13" text-anchor="middle" transform="translate(130,1134) rotate(-30)" textLength="98" lengthAdjust="spacingAndGlyphs">Egipto e Israel</text>
<text class="t b" font-size="12.5" text-anchor="middle" transform="translate(344,997) rotate(-31)" style="fill:#e8342e" textLength="44" lengthAdjust="spacingAndGlyphs">Rafah,</text>
<text class="t b" font-size="12.5" text-anchor="middle" transform="translate(360,1008) rotate(-31)" style="fill:#e8342e" textLength="88" lengthAdjust="spacingAndGlyphs">área palestina</text>
<text class="t b" font-size="12" text-anchor="middle" transform="translate(47,1240) rotate(-30)" style="fill:#3d93a6" textLength="42" lengthAdjust="spacingAndGlyphs">Rafah,</text>
<text class="t b" font-size="12" text-anchor="middle" transform="translate(63,1252) rotate(-30)" style="fill:#3d93a6" textLength="30" lengthAdjust="spacingAndGlyphs">área</text>
<text class="t b" font-size="12" text-anchor="middle" transform="translate(73,1265) rotate(-30)" style="fill:#3d93a6" textLength="48" lengthAdjust="spacingAndGlyphs">egipcia</text>

<text class="t" font-size="13" x="463" y="851.5" text-anchor="middle" textLength="81" lengthAdjust="spacingAndGlyphs">Puesto de las</text>
<text class="t" font-size="13" x="463" y="868" text-anchor="middle" textLength="67" lengthAdjust="spacingAndGlyphs">Fuerzas de</text>
<text class="t" font-size="13" x="463" y="884.5" text-anchor="middle" textLength="106" lengthAdjust="spacingAndGlyphs">Defensa de Israel</text>
<text class="t" font-size="13" x="378" y="1041.5" text-anchor="middle" textLength="50" lengthAdjust="spacingAndGlyphs">Muro de</text>
<text class="t" font-size="13" x="378" y="1058" text-anchor="middle" textLength="52" lengthAdjust="spacingAndGlyphs">concreto</text>
<text class="t" font-size="13" x="200" y="1159.5" text-anchor="middle" textLength="44" lengthAdjust="spacingAndGlyphs">Reja de</text>
<text class="t" font-size="13" x="200" y="1176" text-anchor="middle" textLength="60" lengthAdjust="spacingAndGlyphs">seguridad</text>

<!-- numbered circles in scene -->
<g>
 <circle cx="222" cy="1381" r="10" fill="#111" stroke="#fff" stroke-width="1.5"/>
 <text class="t b" font-size="12" x="222" y="1385.5" text-anchor="middle" style="fill:#fff">1</text>
 <circle cx="303" cy="1485" r="10" fill="#111" stroke="#fff" stroke-width="1.5"/>
 <text class="t b" font-size="12" x="303" y="1489.5" text-anchor="middle" style="fill:#fff">2</text>
 <circle cx="522" cy="1400" r="10" fill="#111" stroke="#fff" stroke-width="1.5"/>
 <text class="t b" font-size="12" x="522" y="1404.5" text-anchor="middle" style="fill:#fff">3</text>
</g>

<!-- leader lines -->
<g stroke="#333" stroke-width="1.2" fill="none" stroke-dasharray="1.5 1.5">
 <path d="M285,1383 V1630"/>
 <path d="M498,1304 L442,1332 V1550"/>
 <path d="M643,1183 V1420"/>
 <path d="M717,1166 V1370"/>
</g>
<g fill="#111" stroke="#fff" stroke-width="1.2">
 <circle cx="285" cy="1383" r="3.5"/><circle cx="498" cy="1304" r="3.5"/><circle cx="643" cy="1183" r="3.5"/><circle cx="717" cy="1166" r="3.5"/>
</g>
<text class="t b" font-size="11.5" x="291" y="1645" text-anchor="middle" textLength="54" lengthAdjust="spacingAndGlyphs">ENTRADA</text>
<text class="t b" font-size="11.5" x="291" y="1660" text-anchor="middle" textLength="45" lengthAdjust="spacingAndGlyphs">EGIPCIA</text>
<text class="t b" font-size="11.5" x="736" y="1385" text-anchor="middle" textLength="55" lengthAdjust="spacingAndGlyphs">ENTRADA</text>
<text class="t b" font-size="11.5" x="736" y="1400" text-anchor="middle" textLength="62" lengthAdjust="spacingAndGlyphs">PALESTINA</text>
<text class="t" font-size="13" x="643" y="1437.5" text-anchor="middle" textLength="54" lengthAdjust="spacingAndGlyphs">Ducto de</text>
<text class="t" font-size="13" x="643" y="1454.5" text-anchor="middle" textLength="65" lengthAdjust="spacingAndGlyphs">ventilación</text>
<text class="t" font-size="13" x="442" y="1567.5" text-anchor="middle" textLength="75" lengthAdjust="spacingAndGlyphs">Barrera para</text>
<text class="t" font-size="13" x="442" y="1583.5" text-anchor="middle" textLength="66" lengthAdjust="spacingAndGlyphs">bloquear la</text>
<text class="t" font-size="13" x="442" y="1600.5" text-anchor="middle" textLength="77" lengthAdjust="spacingAndGlyphs">construcción</text>
<text class="t" font-size="13" x="442" y="1616.5" text-anchor="middle" textLength="63" lengthAdjust="spacingAndGlyphs">de túneles</text>

<!-- explanation list -->
<text class="t b" font-size="13.5" x="537" y="1497.5" textLength="207" lengthAdjust="spacingAndGlyphs">Las excavaciones para los túneles</text>
<text class="t b" font-size="13.5" x="537" y="1513.5" textLength="208" lengthAdjust="spacingAndGlyphs">pueden demorar hasta dos meses</text>
<circle cx="546" cy="1533" r="8.5" fill="#111"/>
<text class="t b" font-size="11" x="546" y="1537" text-anchor="middle" style="fill:#fff">1</text>
<circle cx="546" cy="1573" r="8.5" fill="#111"/>
<text class="t b" font-size="11" x="546" y="1577" text-anchor="middle" style="fill:#fff">2</text>
<circle cx="546" cy="1615" r="8.5" fill="#111"/>
<text class="t b" font-size="11" x="546" y="1619" text-anchor="middle" style="fill:#fff">3</text>
<text class="t" font-size="13.5" x="561" y="1537.5" textLength="219" lengthAdjust="spacingAndGlyphs">Contrabandistas dejan sus armas en</text>
<text class="t" font-size="13.5" x="561" y="1553.5" textLength="105" lengthAdjust="spacingAndGlyphs">la entrada egipcia</text>
<text class="t" font-size="13.5" x="561" y="1577.5" textLength="186" lengthAdjust="spacingAndGlyphs">Los contrabandistas palestinos</text>
<text class="t" font-size="13.5" x="561" y="1594.5" textLength="220" lengthAdjust="spacingAndGlyphs">cargan vagones con armas, cohetes,</text>
<text class="t" font-size="13.5" x="561" y="1610.5" textLength="101" lengthAdjust="spacingAndGlyphs">explosivos, rifles</text>
<text class="t" font-size="13.5" x="561" y="1635.5" textLength="204" lengthAdjust="spacingAndGlyphs">Los contrabandistas se devuelven</text>
<text class="t" font-size="13.5" x="561" y="1651.5" textLength="152" lengthAdjust="spacingAndGlyphs">hasta la entrada de Rafah</text>

<!-- footer -->
<line x1="12" y1="1698" x2="738" y2="1698" stroke="#999" stroke-width="1"/>
<text class="t" font-size="11" x="12" y="1722" textLength="118" lengthAdjust="spacingAndGlyphs">FUENTE: Agencias, BBC</text>
<text class="t b" font-size="11" x="739" y="1721.5" text-anchor="end" textLength="65" lengthAdjust="spacingAndGlyphs">LA TERCERA</text>
<rect x="748" y="1678" width="45" height="44" fill="#e2231a"/>
<text class="t b" font-size="40" x="750" y="1716" style="fill:#fff" textLength="40" lengthAdjust="spacingAndGlyphs">LT</text>
</svg>
</body></html>
